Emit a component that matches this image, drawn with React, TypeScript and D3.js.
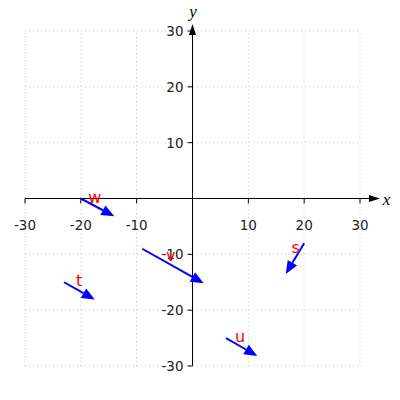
import React from "react";
import * as d3 from "d3";

const names = ["w", "v", "t", "s", "u"];
const startX = [-20, -9, -23, 20, 6];
const startY = [0, -9, -15, -8, -25];
const deltaX = [6, 11, 5.5, -3.3, 5.6];
const deltaY = [-3.2, -6.2, -3.1, -5.5, -3.2];
const labelX = [-17.5, -3.9, -20.3, 18.5, 8.5];
const labelY = [0.2, -10.2, -14.7, -8.8, -24.7];
const xTicks = [-30, -20, -10, 10, 20, 30];
const yTicks = [-30, -20, -10, 10, 20, 30];
const gridVals = [-30, -20, -10, 0, 10, 20, 30];

export default function App() {
  const W = 400, H = 400;
  const x = d3.scaleLinear().domain([-30, 30]).range([25, 360]);
  const y = d3.scaleLinear().domain([-30, 30]).range([366, 31]);
  const x0 = x(0), y0 = y(0);
  const font = "DejaVu Sans, sans-serif";

  const arrowHead = (x1: number, y1: number, x2: number, y2: number, len: number, half: number) => {
    const dx = x2 - x1, dy = y2 - y1;
    const L = Math.hypot(dx, dy);
    const ux = dx / L, uy = dy / L;
    const bx = x2 - ux * len, by = y2 - uy * len;
    const px = -uy, py = ux;
    return {
      pts: `${x2},${y2} ${bx + px * half},${by + py * half} ${bx - px * half},${by - py * half}`,
      bx, by,
    };
  };

  return (
    <svg width={W} height={H} style={{ position: "absolute", left: 0, top: 0, background: "#fff" }}>
      <rect x={0} y={0} width={W} height={H} fill="#fff" />
      {gridVals.map((g) => (
        <g key={"g" + g}>
          <line x1={x(g)} x2={x(g)} y1={y(-30)} y2={y(30)} stroke="#c8c8c8" strokeWidth={1} strokeDasharray="1,3" />
          <line x1={x(-30)} x2={x(30)} y1={y(g)} y2={y(g)} stroke="#c8c8c8" strokeWidth={1} strokeDasharray="1,3" />
        </g>
      ))}
      <line x1={x(-30)} x2={373} y1={y0} y2={y0} stroke="#000" strokeWidth={1} />
      <polygon points={`${380},${y0} ${369},${y0 - 3.5} ${369},${y0 + 3.5}`} fill="#000" />
      <line x1={x0} x2={x0} y1={y(-30)} y2={31} stroke="#000" strokeWidth={1} />
      <polygon points={`${x0},${24} ${x0 - 3.5},${35} ${x0 + 3.5},${35}`} fill="#000" />
      {xTicks.map((t) => (
        <g key={"xt" + t}>
          <line x1={x(t)} x2={x(t)} y1={y0} y2={y0 + 5} stroke="#000" />
          <text x={x(t)} y={y0 + 31} textAnchor="middle" fontFamily={font} fontSize={13.5} fill="#222">{t}</text>
        </g>
      ))}
      {yTicks.map((t) => (
        <g key={"yt" + t}>
          <line x1={x0 - 5} x2={x0} y1={y(t)} y2={y(t)} stroke="#000" />
          <text x={x0 - 9} y={y(t) + 5} textAnchor="end" fontFamily={font} fontSize={13.5} fill="#222">{t}</text>
        </g>
      ))}
      <text x={386.5} y={205} textAnchor="middle" fontFamily="Liberation Serif, serif" fontStyle="italic" fontSize={17}>x</text>
      <text x={193} y={17} textAnchor="middle" fontFamily="Liberation Serif, serif" fontStyle="italic" fontSize={17}>y</text>
      {names.map((n, i) => {
        const x1 = x(startX[i]), y1 = y(startY[i]);
        const x2 = x(startX[i] + deltaX[i]), y2 = y(startY[i] + deltaY[i]);
        const h = arrowHead(x1, y1, x2, y2, 13, 5.5);
        return (
          <g key={n}>
            <line x1={x1} y1={y1} x2={h.bx} y2={h.by} stroke="#0000ff" strokeWidth={2} />
            <polygon points={h.pts} fill="#0000ff" />
          </g>
        );
      })}
      {names.map((n, i) => (
        <text key={"l" + n} x={x(labelX[i])} y={y(labelY[i]) + 5.5} textAnchor="middle" fontFamily={font} fontSize={16} fill="#ff0000">{n}</text>
      ))}
    </svg>
  );
}
